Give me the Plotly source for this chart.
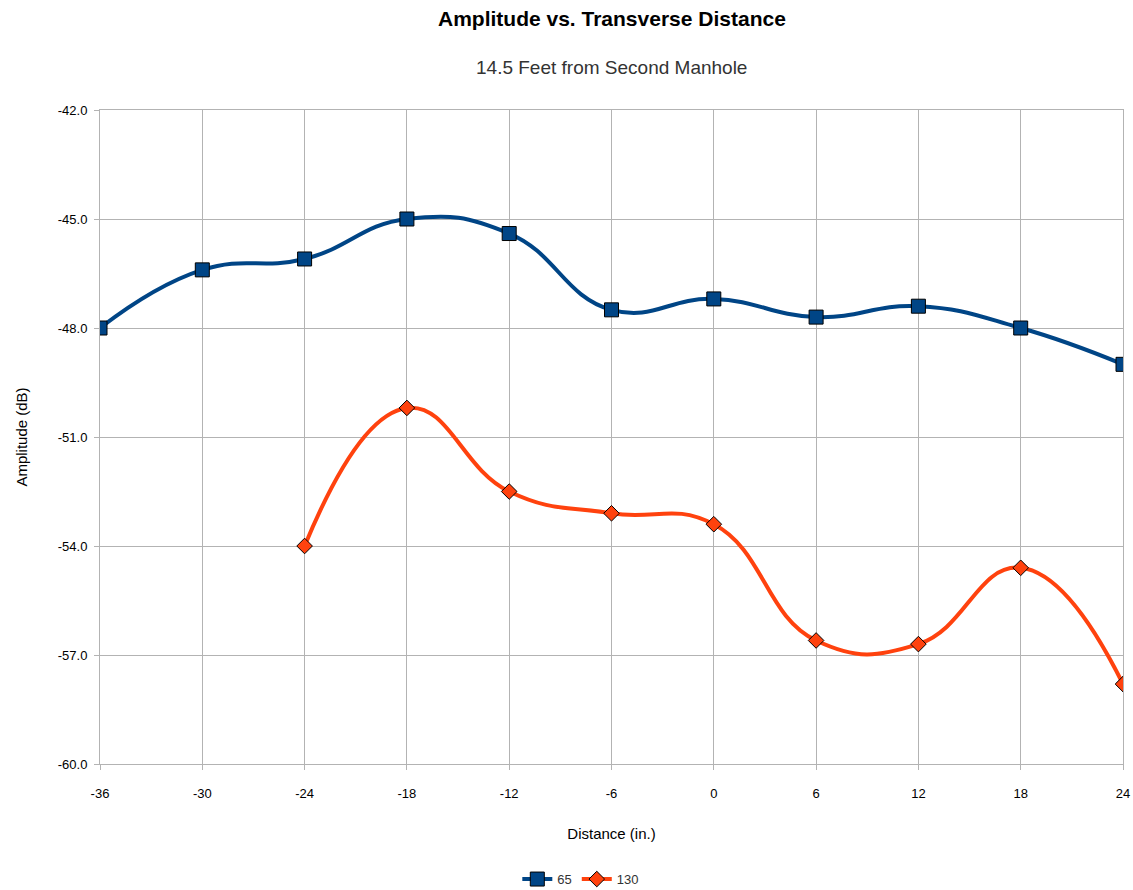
import plotly.graph_objects as go

# Transverse positions (inches) and measured amplitudes (dB)
distance = [-36, -30, -24, -18, -12, -6, 0, 6, 12, 18, 24]
amp_65 = [-48.0, -46.4, -46.1, -45.0, -45.4, -47.5, -47.2, -47.7, -47.4, -48.0, -49.0]
distance_130 = [-24, -18, -12, -6, 0, 6, 12, 18, 24]
amp_130 = [-54.0, -50.2, -52.5, -53.1, -53.4, -56.6, -56.7, -54.6, -57.8]

x_ticks = [-36, -30, -24, -18, -12, -6, 0, 6, 12, 18, 24]
y_ticks = [-60.0, -57.0, -54.0, -51.0, -48.0, -45.0, -42.0]

FONT = "Liberation Sans, Arial, sans-serif"
GRID = "#b3b3b3"

fig = go.Figure()
fig.add_trace(go.Scatter(
    x=distance, y=amp_65, name="65", mode="lines+markers",
    line=dict(color="#004586", width=4, shape="spline", smoothing=1.3),
    marker=dict(symbol="square", size=14, color="#004586",
                line=dict(color="#000000", width=1)),
))
fig.add_trace(go.Scatter(
    x=distance_130, y=amp_130, name="130", mode="lines+markers",
    line=dict(color="#ff420e", width=4, shape="spline", smoothing=1.3),
    marker=dict(symbol="diamond", size=12, color="#ff420e",
                line=dict(color="#000000", width=1)),
))

fig.update_layout(
    width=1133, height=890,
    paper_bgcolor="white", plot_bgcolor="white",
    margin=dict(l=100, r=10, t=110, b=126, autoexpand=False),
    font=dict(family=FONT, size=12, color="#000000"),
    showlegend=True,
    legend=dict(orientation="h", x=0.47, xanchor="center", y=-0.176, yanchor="middle",
                font=dict(size=13, color="#333333"), itemwidth=30,
                tracegroupgap=0),
    annotations=[
        dict(text="<b>Amplitude vs. Transverse Distance</b>", xref="paper", yref="paper",
             x=0.5, y=1.0, xanchor="center", yanchor="middle", yshift=92, showarrow=False,
             font=dict(family=FONT, size=21, color="#000000")),
        dict(text="14.5 Feet from Second Manhole", xref="paper", yref="paper",
             x=0.5, y=1.0, xanchor="center", yanchor="middle", yshift=43, showarrow=False,
             font=dict(family=FONT, size=19, color="#333333")),
    ],
)

fig.update_xaxes(
    range=[-36, 24], tickvals=x_ticks, ticktext=[str(v) for v in x_ticks],
    showgrid=True, gridcolor=GRID, gridwidth=1,
    zeroline=False, showline=True, linecolor=GRID, mirror=True,
    ticks="outside", ticklen=5, tickcolor=GRID, ticklabelstandoff=12,
    tickfont=dict(size=13, color="#000000"),
    title=dict(text="Distance (in.)", font=dict(size=15, color="#000000"), standoff=28),
)
fig.update_yaxes(
    range=[-60, -42], tickvals=y_ticks, ticktext=[f"{v:.1f}" for v in y_ticks],
    showgrid=True, gridcolor=GRID, gridwidth=1,
    zeroline=False, showline=True, linecolor=GRID, mirror=True,
    ticks="outside", ticklen=5, tickcolor=GRID, ticklabelstandoff=4,
    tickfont=dict(size=13, color="#000000"),
    title=dict(text="Amplitude (dB)", font=dict(size=15, color="#000000"), standoff=26),
)

fig.write_html("out.html")
